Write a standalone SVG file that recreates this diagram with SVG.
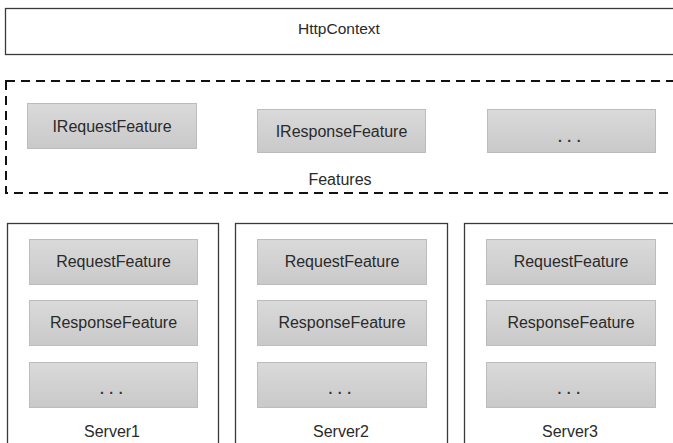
<svg xmlns="http://www.w3.org/2000/svg" width="673" height="443" viewBox="0 0 673 443">
<defs>
<linearGradient id="g" x1="0" y1="0" x2="0" y2="1">
<stop offset="0" stop-color="#dadada"/>
<stop offset="1" stop-color="#c9c9c9"/>
</linearGradient>
<style>
text{font-family:"Liberation Sans",Arial,sans-serif;font-size:16px;fill:#2a2a2a;text-anchor:middle}
.feat{fill:url(#g);stroke:#bcbcbc;stroke-width:1}
.box{fill:#fff;stroke:#3a3a3a;stroke-width:1.3}
.dash{fill:none;stroke:#111;stroke-width:2;stroke-dasharray:9 6}
.dots{letter-spacing:5.5px;font-weight:bold;font-size:14px;fill:#333}
</style>
</defs>
<rect width="673" height="443" fill="#fff"/>
<g id="httpcontext">
<rect class="box" x="5.5" y="8.5" width="680" height="46"/>
<text x="339" y="34" style="font-size:15.5px">HttpContext</text>
</g>
<g id="features">
<rect class="dash" x="6" y="81" width="680" height="112"/>
<text x="340" y="185">Features</text>
</g>
<g id="irequestfeature">
<rect class="feat" x="27.5" y="103.5" width="169" height="45"/>
<text x="112" y="132">IRequestFeature</text>
</g>
<g id="iresponsefeature">
<rect class="feat" x="257.5" y="109.5" width="168" height="43"/>
<text x="341.5" y="137">IResponseFeature</text>
</g>
<g id="ifeature-more">
<rect class="feat" x="487.5" y="109.5" width="168" height="43"/>
<text class="dots" x="572" y="142">...</text>
</g>
<g id="server1">
<rect class="box" x="7.5" y="223.5" width="211" height="230"/>
<rect class="feat" x="29.5" y="239.5" width="168" height="45"/>
<text x="113.5" y="267">RequestFeature</text>
<rect class="feat" x="29.5" y="300.5" width="168" height="45"/>
<text x="113.5" y="328">ResponseFeature</text>
<rect class="feat" x="29.5" y="362.5" width="168" height="45"/>
<text class="dots" x="114" y="394">...</text>
<text x="112" y="437">Server1</text>
</g>
<g id="server2">
<rect class="box" x="235.5" y="223.5" width="212" height="230"/>
<rect class="feat" x="257.5" y="239.5" width="169" height="45"/>
<text x="342" y="267">RequestFeature</text>
<rect class="feat" x="257.5" y="300.5" width="169" height="45"/>
<text x="342" y="328">ResponseFeature</text>
<rect class="feat" x="257.5" y="362.5" width="169" height="45"/>
<text class="dots" x="342.5" y="394">...</text>
<text x="341" y="437">Server2</text>
</g>
<g id="server3">
<rect class="box" x="464.5" y="223.5" width="220" height="230"/>
<rect class="feat" x="486.5" y="239.5" width="169" height="45"/>
<text x="571" y="267">RequestFeature</text>
<rect class="feat" x="486.5" y="300.5" width="169" height="45"/>
<text x="571" y="328">ResponseFeature</text>
<rect class="feat" x="486.5" y="362.5" width="169" height="45"/>
<text class="dots" x="571.5" y="394">...</text>
<text x="570" y="437">Server3</text>
</g>
<g id="connectors"/>
</svg>
